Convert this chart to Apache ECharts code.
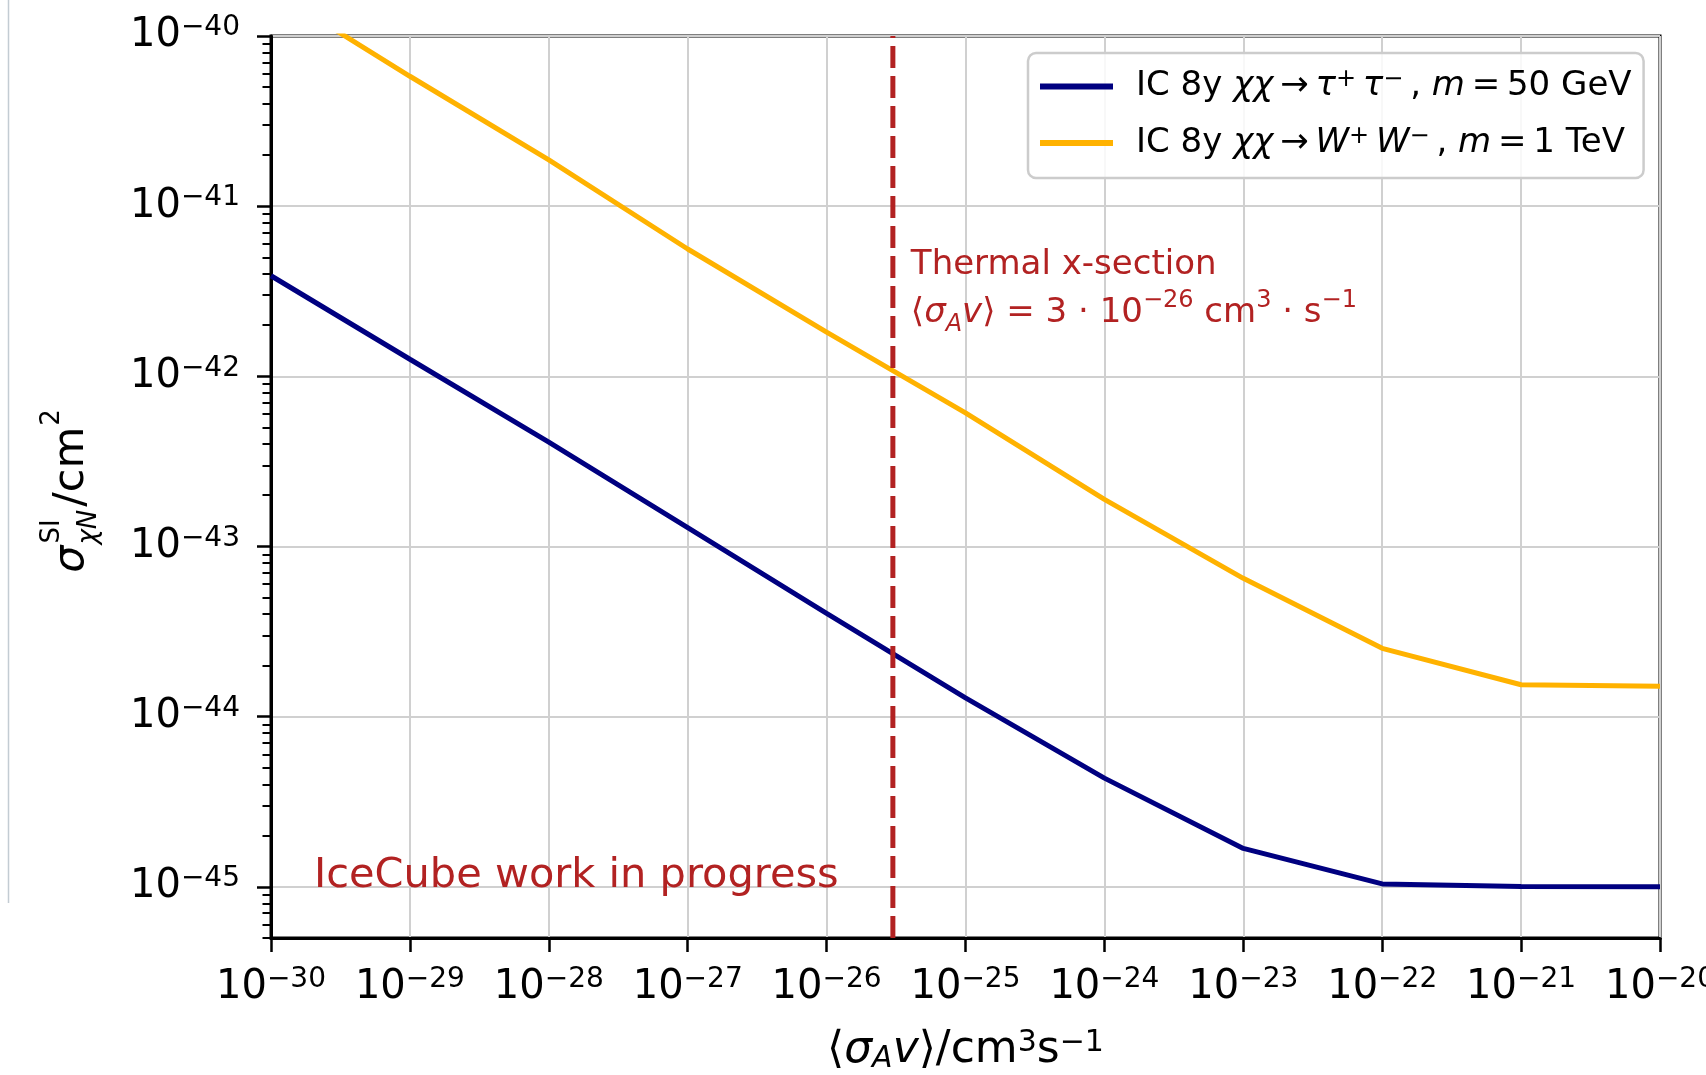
<!DOCTYPE html>
<html>
<head>
<meta charset="utf-8">
<script src="https://cdn.jsdelivr.net/npm/echarts@6/dist/echarts.min.js"></script>
<style>
  html, body { margin: 0; padding: 0; background: #fff; }
  #main { width: 1706px; height: 1075px; }
</style>
</head>
<body>
<div id="main"></div>
<script>
var chartDom = document.getElementById('main');
var myChart = echarts.init(chartDom);
var option;

const FONT = 'DejaVu Sans';
const navy = '#000080';
const amber = '#FFB200';
const firebrick = '#B22222';

// <sigma_A v> in cm^3 s^-1
const annihilationXsec = [1e-30, 1e-29, 1e-28, 1e-27, 1e-26, 1e-25, 1e-24, 1e-23, 1e-22, 1e-21, 1e-20];
// sigma_chiN^SI limits in cm^2
const tauLimit = [3.9e-42, 1.26e-42, 4.1e-43, 1.29e-43, 4.05e-44, 1.29e-44, 4.35e-45, 1.68e-45, 1.04e-45, 1.005e-45, 1.0e-45];
const wwLimit = [1.86e-40, 5.8e-41, 1.87e-41, 5.6e-42, 1.82e-42, 6.1e-43, 1.89e-43, 6.5e-44, 2.52e-44, 1.54e-44, 1.51e-44];
const thermalXsec = 3e-26;

const xTicks = [1e-30, 1e-29, 1e-28, 1e-27, 1e-26, 1e-25, 1e-24, 1e-23, 1e-22, 1e-21, 1e-20];
const yTicks = [1e-45, 1e-44, 1e-43, 1e-42, 1e-41, 1e-40];
const yMinorDecades = [1e-46, 1e-45, 1e-44, 1e-43, 1e-42, 1e-41];
const yMinorMantissas = [2, 3, 4, 5, 6, 7, 8, 9];
const X_MIN = 1e-30, X_MAX = 1e-20;
const Y_MIN = 5e-46, Y_MAX = 1e-40;

// echarts rounds axis extents to 20 decimals, so both axes work in scaled units
const X_UNIT_EXP = -30, Y_UNIT_EXP = -46;
function toX(v) { return Number((v / Math.pow(10, X_UNIT_EXP)).toPrecision(12)); }
function toY(v) { return Number((v / Math.pow(10, Y_UNIT_EXP)).toPrecision(12)); }

const NAME_TAU = 'IC 8y χχ→τ⁺τ⁻, m = 50 GeV';
const NAME_WW = 'IC 8y χχ→W⁺W⁻, m = 1 TeV';
const legendRichText = {};
legendRichText[NAME_TAU] = '{p|IC 8y }{i|χχ}{n|\u2009→\u2009}{i|τ}{s|+}{i|\u2009τ}{s|−}{n|\u2009, }{i|m}{n|\u2009=\u200950 GeV}';
legendRichText[NAME_WW] = '{p|IC 8y }{i|χχ}{n|\u2009→\u2009}{i|W}{s|+}{i|\u2009W}{s|−}{n|\u2009, }{i|m}{n|\u2009=\u20091 TeV}';

let yMinorTicks = [];
yMinorDecades.forEach(d => {
  yMinorMantissas.forEach(m => {
    const v = m * d;
    if (v >= Y_MIN * 0.999 && v <= Y_MAX * 1.001) yMinorTicks.push(toY(v));
  });
});

function powLabel(exponentShift)
{
  return function (value) {
    const e = Math.round(Math.log10(value)) + exponentShift;
    return '{b|10}{s|' + (e < 0 ? '\u2212' + (-e) : e) + '}';
  };
}

const tickRich = {
  b: { fontSize: 40, lineHeight: 44, fontFamily: FONT },
  s: { fontSize: 28, lineHeight: 22, verticalAlign: 'top', fontFamily: FONT }
};

function pairs(xs, ys)
{
  return xs.map((x, i) => [toX(x), toY(ys[i])]);
}

option = {
  animation: false,
  backgroundColor: '#fff',
  textStyle: { fontFamily: FONT, color: '#000' },
  grid: {
    left: 271,
    right: 46,
    top: 36,
    bottom: 137,
    outerBoundsMode: 'none',
    containLabel: false,
    show: true,
    borderColor: '#000',
    borderWidth: 3,
    backgroundColor: 'transparent'
  },
  legend: {
    orient: 'vertical',
    left: 1028,
    top: 53,
    padding: [15, 12, 18, 9],
    itemGap: 21,
    itemWidth: 73,
    itemHeight: 2,
    backgroundColor: 'rgba(255,255,255,0.85)',
    borderColor: '#cccccc',
    borderWidth: 2.5,
    borderRadius: 8,
    selectedMode: false,
    lineStyle: { width: 6 },
    itemStyle: { color: 'rgba(0,0,0,0)', borderWidth: 0, opacity: 0 },
    data: [NAME_TAU, NAME_WW],
    formatter: name => legendRichText[name],
    textStyle: {
      fontSize: 34,
      color: '#000',
      rich: {
        p: { fontSize: 34, lineHeight: 37, padding: [0, 0, 0, 18], fontFamily: FONT },
        n: { fontSize: 34, lineHeight: 37, fontFamily: FONT },
        i: { fontSize: 34, lineHeight: 37, fontStyle: 'italic', fontFamily: FONT },
        s: { fontSize: 24, lineHeight: 19, verticalAlign: 'top', fontFamily: FONT }
      }
    }
  },
  xAxis: {
    type: 'log',
    logBase: 10,
    min: toX(X_MIN),
    max: toX(X_MAX),
    axisLine: { show: true, onZero: false, lineStyle: { color: '#000', width: 3 } },
    axisTick: { show: true, inside: false, length: 14, customValues: xTicks.map(toX), lineStyle: { color: '#000', width: 2.5 } },
    axisLabel: { customValues: xTicks.map(toX), formatter: powLabel(X_UNIT_EXP), margin: 28, color: '#000', rich: tickRich },
    splitLine: { show: true, lineStyle: { color: '#d0d0d0', width: 2 } },
    name: '{n|⟨}{i|σ}{sub|A}{i|v}{n|⟩/cm}{sup|3}{n|s}{sup|−1}',
    nameLocation: 'middle',
    nameGap: 90,
    nameTextStyle: {
      color: '#000',
      rich: {
        n: { fontSize: 44, lineHeight: 46, fontFamily: FONT },
        i: { fontSize: 44, lineHeight: 46, fontStyle: 'italic', fontFamily: FONT },
        sub: { fontSize: 30, lineHeight: 25, verticalAlign: 'bottom', fontStyle: 'italic', fontFamily: FONT },
        sup: { fontSize: 30, lineHeight: 25, verticalAlign: 'top', fontFamily: FONT }
      }
    }
  },
  yAxis: [
    {
      type: 'log',
      logBase: 10,
      min: toY(Y_MIN),
      max: toY(Y_MAX),
      axisLine: { show: true, onZero: false, lineStyle: { color: '#000', width: 3 } },
      axisTick: { show: true, inside: false, length: 14, customValues: yTicks.map(toY), lineStyle: { color: '#000', width: 2.5 } },
      axisLabel: { customValues: yTicks.map(toY), formatter: powLabel(Y_UNIT_EXP), margin: 31, color: '#000', rich: tickRich },
      splitLine: { show: true, lineStyle: { color: '#d0d0d0', width: 2 } }
    },
    {
      // minor ticks only
      type: 'log',
      logBase: 10,
      min: toY(Y_MIN),
      max: toY(Y_MAX),
      position: 'left',
      axisLine: { show: false },
      axisTick: { show: true, inside: false, length: 8.5, customValues: yMinorTicks, lineStyle: { color: '#000', width: 2 } },
      axisLabel: { show: false },
      splitLine: { show: false }
    }
  ],
  series: [
    {
      name: NAME_TAU,
      type: 'line',
      data: pairs(annihilationXsec, tauLimit),
      symbol: 'none',
      silent: true,
      z: 4,
      lineStyle: { color: navy, width: 5 },
      itemStyle: { color: navy }
    },
    {
      name: NAME_WW,
      type: 'line',
      data: pairs(annihilationXsec, wwLimit),
      symbol: 'none',
      silent: true,
      z: 3,
      lineStyle: { color: amber, width: 5 },
      itemStyle: { color: amber }
    },
    {
      name: 'thermal',
      type: 'line',
      data: pairs([thermalXsec, thermalXsec], [Y_MIN, Y_MAX]),
      symbol: 'none',
      silent: true,
      z: 5,
      lineStyle: { color: firebrick, width: 5, type: [22, 8] },
      itemStyle: { color: firebrick }
    }
  ]
};

option && myChart.setOption(option);

// annotations and y axis title (mathtext-like, built from pieces)
const measureCtx = document.createElement('canvas').getContext('2d');
function textWidth(txt, font)
{
  measureCtx.font = font;
  return measureCtx.measureText(txt).width;
}

const yBig = 43, ySmall = 26;
const wSigma = textWidth('σ', 'italic ' + yBig + 'px "' + FONT + '"');
const wSI = textWidth('SI', ySmall + 'px "' + FONT + '"');
const wChiN = textWidth('χN', 'italic ' + ySmall + 'px "' + FONT + '"');
const wScripts = Math.max(wSI, wChiN);
const wCm = textWidth('/cm', yBig + 'px "' + FONT + '"');
const wTwo = textWidth('2', ySmall + 'px "' + FONT + '"');
const yTitleLen = wSigma + 2 + wScripts + 2 + wCm + 1 + wTwo;
const gridRect = myChart.getModel().getComponent('grid').coordinateSystem.getRect();
const yMid = gridRect.y + gridRect.height / 2 + 4;

function piece(txt, x, y, size, italic)
{
  return {
    type: 'text',
    x: x,
    y: y,
    style: {
      text: txt,
      fontSize: size,
      fontFamily: FONT,
      fontStyle: italic ? 'italic' : 'normal',
      fill: '#000',
      align: 'left',
      verticalAlign: 'middle'
    }
  };
}

const thermalPx = myChart.convertToPixel({ xAxisIndex: 0 }, toX(thermalXsec));

myChart.setOption({
  graphic: [
    {
      type: 'line',
      shape: { x1: 8.5, y1: 0, x2: 8.5, y2: 903 },
      style: { stroke: '#c3ccd3', lineWidth: 1.5 }
    },
    {
      type: 'group',
      x: 72,
      y: yMid + yTitleLen / 2,
      rotation: Math.PI / 2,
      children: [
        piece('σ', 0, 0, yBig, true),
        piece('SI', wSigma + 2, -20, ySmall, false),
        piece('χN', wSigma + 1, 17, ySmall, true),
        piece('/cm', wSigma + 2 + wScripts + 2, 0, yBig, false),
        piece('2', wSigma + 2 + wScripts + 2 + wCm + 1, -20, ySmall, false)
      ]
    },
    {
      type: 'text',
      x: thermalPx + 18,
      y: 241,
      z: 10,
      style: {
        text: '{n|Thermal x-section}\n{n|⟨}{i|σ}{sub|A}{i|v}{n|⟩ = 3 · 10}{sup|−26}{n| cm}{sup|3}{n| · s}{sup|−1}',
        fill: firebrick,
        fontSize: 34,
        fontFamily: FONT,
        align: 'left',
        verticalAlign: 'top',
        rich: {
          n: { fontSize: 34, lineHeight: 48, fontFamily: FONT, fill: firebrick },
          i: { fontSize: 34, lineHeight: 48, fontStyle: 'italic', fontFamily: FONT, fill: firebrick },
          sub: { fontSize: 24, lineHeight: 30, verticalAlign: 'bottom', fontStyle: 'italic', fontFamily: FONT, fill: firebrick },
          sup: { fontSize: 24, lineHeight: 30, verticalAlign: 'top', fontFamily: FONT, fill: firebrick }
        }
      }
    },
    {
      type: 'text',
      x: 314,
      y: 876,
      z: 10,
      style: {
        text: 'IceCube work in progress',
        fill: firebrick,
        fontSize: 41.5,
        fontFamily: FONT,
        align: 'left',
        verticalAlign: 'middle'
      }
    }
  ]
});
</script>
</body>
</html>
